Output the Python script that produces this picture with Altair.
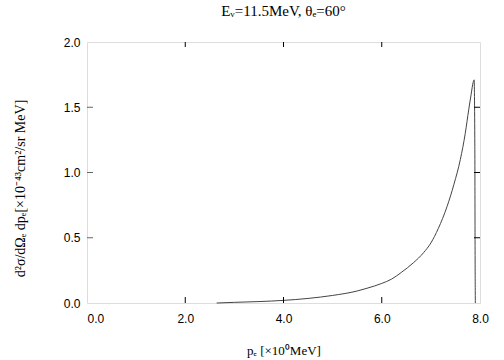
import altair as alt
import pandas as pd

# momentum p_e [MeV] and cross section values
p_e = [2.64, 3.0, 3.5, 4.0, 4.5, 5.0, 5.5, 5.7, 6.0, 6.2, 6.4, 6.65, 6.85, 7.0, 7.15, 7.33, 7.47, 7.6, 7.7, 7.77, 7.82, 7.86, 7.88, 7.895, 7.90, 7.905]
xsec = [0.0, 0.005, 0.011, 0.02, 0.035, 0.058, 0.092, 0.113, 0.15, 0.183, 0.235, 0.31, 0.385, 0.46, 0.57, 0.74, 0.91, 1.10, 1.30, 1.48, 1.60, 1.69, 1.71, 1.2, 0.4, 0.0]

x_ticks = [0.0, 2.0, 4.0, 6.0, 8.0]
y_ticks = [0.0, 0.5, 1.0, 1.5, 2.0]
x_inner = [2.0, 4.0, 6.0]
y_inner = [0.5, 1.0, 1.5]

W, H = 393, 261

df = pd.DataFrame({"p": p_e, "s": xsec})
dfx = pd.DataFrame({"t": x_inner})
dfy = pd.DataFrame({"t": y_inner})

xscale = alt.Scale(domain=[0, 8], nice=False, zero=False)
yscale = alt.Scale(domain=[0, 2], nice=False, zero=False)

xaxis = alt.Axis(
    values=x_ticks, format=".1f", tickSize=0, domain=False, grid=False,
    labelFont="Liberation Sans", labelFontSize=12, labelColor="black", labelPadding=10,
    labelAlign={"condition": {"test": "datum.value === 0", "value": "left"}, "value": "center"},
    title="pₑ [×10⁰MeV]", titleFont="Liberation Serif", titleFontSize=13,
    titleFontWeight="normal", titleColor="black", titleY=47, titleBaseline="middle",
    titleX=W / 2,
)
yaxis = alt.Axis(
    values=y_ticks, format=".1f", tickSize=0, domain=False, grid=False,
    labelFont="Liberation Sans", labelFontSize=12, labelColor="black", labelPadding=7,
    title="d²σ/dΩₑ dpₑ[×10⁻⁴³cm²/sr MeV]", titleFont="Liberation Serif", titleFontSize=14,
    titleFontWeight="normal", titleColor="black", titleX=-67, titleY=146,
    titleAngle=270, titleBaseline="middle", titleAlign="center",
)

line = alt.Chart(df).mark_line(color="#444444", strokeWidth=1, interpolate="monotone").encode(
    x=alt.X("p:Q", scale=xscale, axis=xaxis),
    y=alt.Y("s:Q", scale=yscale, axis=yaxis),
)

tick_style = dict(color="black", strokeWidth=1)
bottom_ticks = alt.Chart(dfx).mark_rule(**tick_style).encode(
    x=alt.X("t:Q", scale=xscale), y=alt.value(H), y2=alt.value(H - 6))
top_ticks = alt.Chart(dfx).mark_rule(**tick_style).encode(
    x=alt.X("t:Q", scale=xscale), y=alt.value(0), y2=alt.value(5))
left_ticks = alt.Chart(dfy).mark_rule(color="#666666", strokeWidth=1).encode(
    y=alt.Y("t:Q", scale=yscale), x=alt.value(0), x2=alt.value(6))
right_ticks = alt.Chart(dfy).mark_rule(**tick_style).encode(
    y=alt.Y("t:Q", scale=yscale), x=alt.value(W), x2=alt.value(W - 6))

chart = alt.layer(line, bottom_ticks, top_ticks, left_ticks, right_ticks).properties(
    width=W, height=H,
    title=alt.TitleParams(
        "Eᵥ=11.5MeV,  θₑ=60°", font="Liberation Serif", fontSize=15,
        fontWeight="normal", color="black", offset=17, anchor="middle",
    ),
    autosize=alt.AutoSizeParams(type="none"),
    padding={"left": 87, "top": 42, "right": 24, "bottom": 57},
).configure_view(stroke="black", strokeWidth=2).configure(background="white")

chart.save("out.html", embed_options={"renderer": "svg", "actions": False})
